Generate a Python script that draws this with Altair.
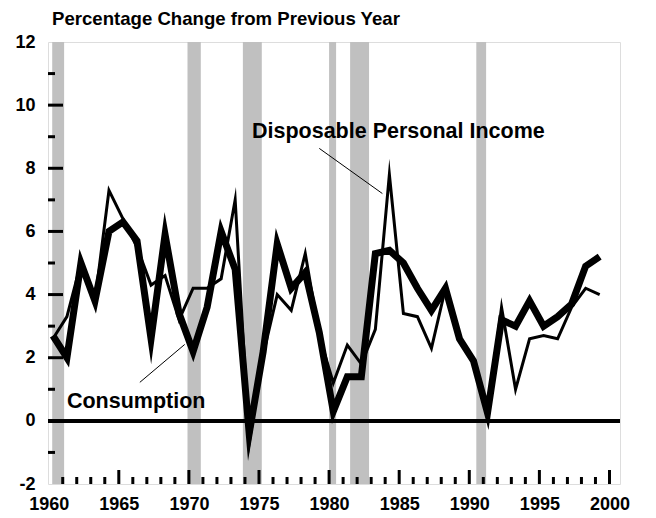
import altair as alt
import pandas as pd

# ---- data ----
years = list(range(1960, 2000))
consumption = [2.7, 2.0, 5.0, 3.8, 6.0, 6.3, 5.7, 2.6, 5.9, 3.4,
               2.2, 3.6, 6.0, 4.8, -0.4, 2.2, 5.6, 4.2, 4.7, 2.8,
               0.3, 1.4, 1.4, 5.3, 5.4, 5.0, 4.2, 3.5, 4.2, 2.6,
               1.9, 0.25, 3.2, 3.0, 3.8, 3.0, 3.3, 3.7, 4.9, 5.2]
dpi = [2.6, 3.3, 5.0, 3.8, 7.3, 6.4, 5.5, 4.3, 4.6, 3.2,
       4.2, 4.2, 4.5, 7.0, -0.7, 2.1, 4.0, 3.5, 5.3, 2.7,
       1.2, 2.4, 1.8, 2.9, 7.8, 3.4, 3.3, 2.3, 4.2, 2.6,
       1.9, 0.2, 3.6, 1.0, 2.6, 2.7, 2.6, 3.6, 4.2, 4.0]
rec_start = [1960.25, 1969.9, 1973.85, 1980.0, 1981.5, 1990.5]
rec_end = [1961.1, 1970.85, 1975.2, 1980.5, 1982.85, 1991.2]
x_labels = [1960, 1965, 1970, 1975, 1980, 1985, 1990, 1995, 2000]
y_labels = [-2, 0, 2, 4, 6, 8, 10, 12]
x_major_ticks = [1965, 1970, 1975, 1980, 1985, 1990, 1995, 2000]
x_minor_ticks = [y for y in range(1961, 2000) if y % 5 != 0]
y_major_ticks = [0, 2, 4, 6, 8, 10]
y_minor_ticks = [-1, 1, 3, 5, 7, 9, 11]
labels = ["Disposable Personal Income", "Consumption"]
label_x = [1974.5, 1961.3]
label_y = [9.14, 0.59]
leader_x = [1979.3, 1966.5]
leader_y = [8.63, 1.22]
leader_x2 = [1983.8, 1969.7]
leader_y2 = [7.2, 2.42]

df = pd.DataFrame({"year": years, "consumption": consumption, "dpi": dpi})
rec = pd.DataFrame({"start": rec_start, "end": rec_end})
lab = pd.DataFrame({"x": label_x, "y": label_y, "text": labels})
lead = pd.DataFrame({"x": leader_x, "y": leader_y, "x2": leader_x2, "y2": leader_y2})

W, H = 572, 442
FONT = "Liberation Sans"
FS_AXIS = 18
FS_TITLE = 18.6
FS_LABEL = 21.5

xscale = alt.Scale(domain=[1959.95, 2000.75], nice=False, zero=False)
yscale = alt.Scale(domain=[-2, 12], nice=False, zero=False)

xaxis = alt.Axis(values=x_labels, format="d", ticks=False, domain=False, grid=False,
                 labelFont=FONT, labelFontSize=FS_AXIS, labelFontWeight="bold",
                 labelColor="black", labelPadding=11, title=None, labelFlush=False)
yaxis = alt.Axis(values=y_labels, ticks=False, domain=False, grid=False,
                 labelExpr="datum.value < 0 ? '-' + abs(datum.value) : '' + datum.value",
                 labelFont=FONT, labelFontSize=FS_AXIS, labelFontWeight="bold",
                 labelColor="black", labelPadding=13, title=None)

bands = alt.Chart(rec).mark_rect(color="#c0c0c0").encode(
    x=alt.X("start:Q", scale=xscale, axis=xaxis),
    x2="end:Q",
    y=alt.Y(datum=-2, scale=yscale, axis=yaxis),
    y2=alt.datum(12),
)

zero = alt.Chart(df).mark_rule(color="black", strokeWidth=3).encode(
    y=alt.Y(datum=0, scale=yscale, axis=yaxis),
)

xt_major = alt.Chart(pd.DataFrame({"v": x_major_ticks})).mark_rule(color="black", strokeWidth=3).encode(
    x=alt.X("v:Q", scale=xscale, axis=xaxis), y=alt.value(H), y2=alt.value(H - 14))
xt_minor = alt.Chart(pd.DataFrame({"v": x_minor_ticks})).mark_rule(color="black", strokeWidth=3).encode(
    x=alt.X("v:Q", scale=xscale, axis=xaxis), y=alt.value(H), y2=alt.value(H - 7))
yt_major = alt.Chart(pd.DataFrame({"v": y_major_ticks})).mark_rule(color="black", strokeWidth=3).encode(
    y=alt.Y("v:Q", scale=yscale, axis=yaxis), x=alt.value(0), x2=alt.value(15))
yt_minor = alt.Chart(pd.DataFrame({"v": y_minor_ticks})).mark_rule(color="black", strokeWidth=3).encode(
    y=alt.Y("v:Q", scale=yscale, axis=yaxis), x=alt.value(0), x2=alt.value(7))

base = alt.Chart(df).transform_calculate(xpos="datum.year + 0.3")
cons_line = base.mark_line(color="black", strokeWidth=7, strokeJoin="miter", strokeMiterLimit=10).encode(
    x=alt.X("xpos:Q", scale=xscale, axis=xaxis),
    y=alt.Y("consumption:Q", scale=yscale, axis=yaxis),
)
dpi_line = base.mark_line(color="black", strokeWidth=3, strokeJoin="miter", strokeMiterLimit=20).encode(
    x=alt.X("xpos:Q", scale=xscale, axis=xaxis),
    y=alt.Y("dpi:Q", scale=yscale, axis=yaxis),
)

leaders = alt.Chart(lead).mark_rule(color="black", strokeWidth=1).encode(
    x=alt.X("x:Q", scale=xscale, axis=xaxis), y=alt.Y("y:Q", scale=yscale, axis=yaxis),
    x2="x2:Q", y2="y2:Q")

texts = alt.Chart(lab).mark_text(align="left", baseline="middle", font=FONT, fontSize=FS_LABEL,
                                 fontWeight="bold", color="black").encode(
    x=alt.X("x:Q", scale=xscale, axis=xaxis), y=alt.Y("y:Q", scale=yscale, axis=yaxis),
    text="text:N")

chart = alt.layer(bands, zero, xt_major, xt_minor, yt_major, yt_minor,
                  cons_line, dpi_line, leaders, texts).properties(
    width=W, height=H,
    title=alt.Title("Percentage Change from Previous Year", anchor="start", frame="group",
                    font=FONT, fontSize=FS_TITLE, fontWeight="bold", color="black",
                    offset=4, dx=4),
    padding={"left": 6, "top": 2, "right": 5, "bottom": 2},
).configure_view(stroke="black", strokeWidth=3.5).configure(background="white")

chart.save("out.html", embed_options={"renderer": "svg", "actions": False})
